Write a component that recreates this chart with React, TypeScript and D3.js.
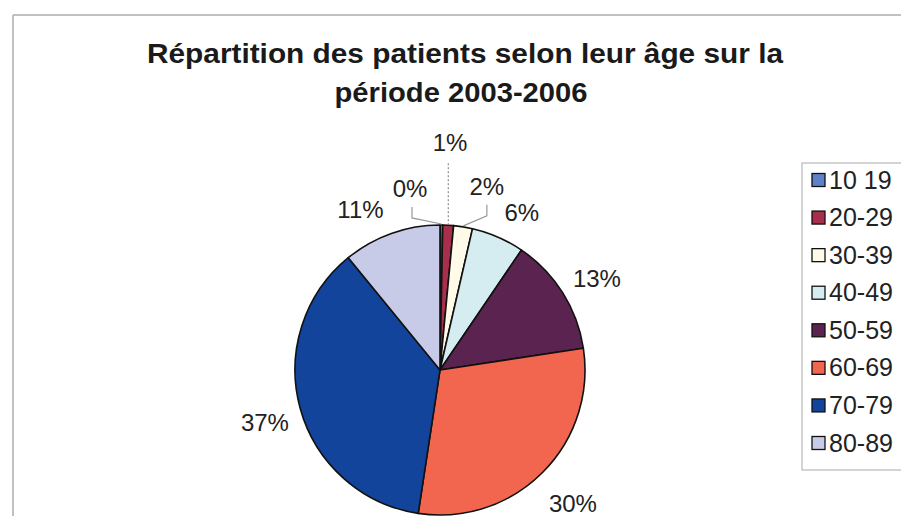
import React from "react";
import * as d3 from "d3";

const categories = ["10 19", "20-29", "30-39", "40-49", "50-59", "60-69", "70-79", "80-89"];
const values = [0.3, 1.2, 2.1, 5.9, 13.1, 29.8, 36.7, 10.9];
const colors = ["#5d82c9", "#a82f4c", "#fffbe8", "#d5edf1", "#5b2350", "#f2654f", "#13449b", "#c7cbe7"];
const titleLines = ["Répartition des patients selon leur âge sur la", "période 2003-2006"];

// label placement (polar radius and angle shift from slice mid-angle) — layout only
type Lay = { r: number; da: number; leader?: "dash" | "bracketL" | "bracketR" };
const labelLayout: Lay[] = [
  { r: 184.5, da: -9.9, leader: "bracketL" },
  { r: 228, da: -0.7, leader: "dash" },
  { r: 190, da: 5.1, leader: "bracketR" },
  { r: 178, da: 3.8 },
  { r: 182, da: 1.8 },
  { r: 188, da: 0 },
  { r: 182.6, da: -1.2 },
  { r: 180, da: -6.6 },
];

const W = 901;
const H = 516;
const cx = 440;
const cy = 370;
const R = 145;
const font = "'Liberation Sans', Arial, Helvetica, sans-serif";

export default function App() {
  const pie = d3.pie<number>().sort(null).value((d) => d)(values);
  const arc = d3.arc<d3.PieArcDatum<number>>().innerRadius(0).outerRadius(R);
  const total = d3.sum(values);
  const toRad = Math.PI / 180;

  const legendY = d3.scalePoint<string>().domain(categories).range([180, 443]);
  const titleLayout = [
    { x: 465, y: 63, len: 636 },
    { x: 461, y: 102, len: 253 },
  ];

  return (
    <svg width={W} height={H} style={{ position: "absolute", left: 0, top: 0, background: "#fff" }}>
      <rect x={0} y={0} width={W} height={H} fill="#fff" />
      {/* frame */}
      <line x1={13} y1={15} x2={W} y2={15} stroke="#acacac" strokeWidth={1.5} />
      <line x1={13} y1={15} x2={13} y2={H} stroke="#acacac" strokeWidth={1.5} />
      {/* title */}
      {titleLines.map((t, i) => (
        <text
          key={i}
          x={titleLayout[i].x}
          y={titleLayout[i].y}
          textAnchor="middle"
          fontFamily={font}
          fontWeight="bold"
          fontSize={28}
          fill="#1a1a1a"
          textLength={titleLayout[i].len}
          lengthAdjust="spacingAndGlyphs"
        >
          {t}
        </text>
      ))}
      {/* pie */}
      <g transform={`translate(${cx},${cy})`}>
        {pie.map((p, i) => (
          <path key={i} d={arc(p) || ""} fill={colors[i]} stroke="#111" strokeWidth={1.6} strokeLinejoin="round" />
        ))}
        {pie.map((p, i) => {
          const mid = (p.startAngle + p.endAngle) / 2;
          const lay = labelLayout[i];
          const a = mid + lay.da * toRad;
          const lx = lay.r * Math.sin(a);
          const ly = -lay.r * Math.cos(a);
          const ex = (R + 1) * Math.sin(mid);
          const ey = -(R + 1) * Math.cos(mid);
          const pct = Math.round((values[i] / total) * 100) + "%";
          let leader = null;
          if (lay.leader === "dash") {
            leader = <line x1={ex} y1={ly + 21} x2={ex} y2={ey} stroke="#777" strokeWidth={1} strokeDasharray="2,2" />;
          } else if (lay.leader === "bracketL" || lay.leader === "bracketR") {
            const vx = lay.leader === "bracketL" ? lx + 2 : lx;
            leader = (
              <polyline
                points={`${vx},${ly + 19} ${vx},${ly + 30} ${ex},${ey}`}
                fill="none"
                stroke="#999"
                strokeWidth={1.2}
              />
            );
          }
          return (
            <g key={"l" + i}>
              {leader}
              <text x={lx} y={ly + 9} textAnchor="middle" fontFamily={font} fontSize={24} fill="#222">
                {pct}
              </text>
            </g>
          );
        })}
      </g>
      {/* legend */}
      <rect x={802} y={163} width={120} height={307} fill="#fff" stroke="#b8b8b8" strokeWidth={1.2} />
      {categories.map((c, i) => {
        const y = legendY(c) as number;
        return (
          <g key={c}>
            <rect x={812} y={y - 6.5} width={13} height={13} fill={colors[i]} stroke="#111" strokeWidth={1.3} />
            <text x={829} y={y + 8.5} fontFamily={font} fontSize={25} fill="#222">
              {c}
            </text>
          </g>
        );
      })}
    </svg>
  );
}
